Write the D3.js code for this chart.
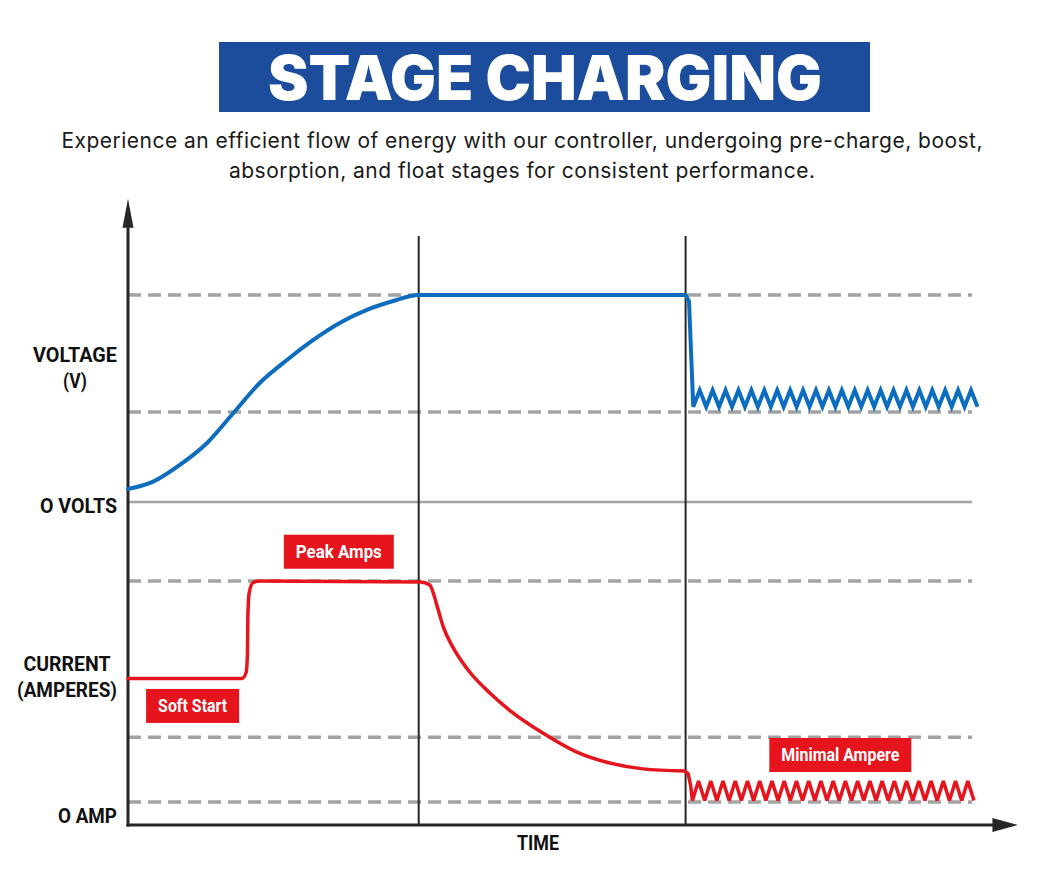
<!DOCTYPE html>
<html>
<head>
  <meta charset="utf-8">
  <title>Stage Charging</title>
  <script src="https://d3js.org/d3.v7.min.js"></script>
  <style>
    body { margin: 0; background: #fff; }
    .lbl { font-family: "Liberation Sans Narrow", "Roboto", sans-serif; font-weight: bold; }
  </style>
</head>
<body>
  <div id="chart"></div>

  <script>
    // time runs 0..100 across the chart, levels are relative (0..100)
    const stageBoundaries = [34.2, 65.6];
    const voltageGuides = [100, 43.5];
    const currentGuides = [100, 36, 9.4];

    // voltage: pre-charge / boost curve up to absorption level
    const voltageRise = [
      [0, 6.3], [2.9, 9.7], [6.1, 17.9], [9.3, 28.5], [12.4, 43], [15.5, 57.5],
      [18.7, 68.6], [21.8, 78.3], [24.9, 86.5], [28.1, 92.8], [31.2, 97.1],
      [34.2, 100], [65.6, 100]
    ];
    // drop to float and the float ripple
    const voltageFloat = [
      [65.6, 100], [66.0, 97], [66.5, 46],
      [67.26, 54], [68.02, 46], [68.78, 54], [69.54, 46], [70.3, 54], [71.06, 46],
      [71.82, 54], [72.58, 46], [73.34, 54], [74.1, 46], [74.86, 54], [75.62, 46],
      [76.38, 54], [77.14, 46], [77.9, 54], [78.66, 46], [79.42, 54], [80.18, 46],
      [80.94, 54], [81.7, 46], [82.46, 54], [83.22, 46], [83.98, 54], [84.74, 46],
      [85.5, 54], [86.26, 46], [87.02, 54], [87.78, 46], [88.54, 54], [89.3, 46],
      [90.06, 54], [90.82, 46], [91.58, 54], [92.34, 46], [93.1, 54], [93.86, 46],
      [94.62, 54], [95.38, 46], [96.14, 54], [96.9, 46], [97.66, 54], [98.42, 46],
      [99.18, 54], [99.94, 46]
    ];

    // current: soft start, peak amps, taper
    const currentMain = [
      [0, 60], [13.4, 60], [13.9, 62.5], [14.05, 70], [14.1, 85], [14.25, 95],
      [14.7, 99.3], [15.5, 100], [34.4, 99.6], [35.5, 98.4], [36.4, 89.3],
      [37.1, 81.1], [38.2, 73], [40.2, 62.7], [42.6, 54], [44.9, 47], [48.8, 37.7],
      [52.8, 29.9], [56.7, 25.4], [60.6, 23], [65.5, 22.1]
    ];
    const currentFloat = [
      [65.5, 22.1], [65.9, 21], [66.2, 16], [66.4, 10],
      [67.12, 18], [67.84, 10], [68.56, 18], [69.28, 10], [70, 18], [70.72, 10],
      [71.44, 18], [72.16, 10], [72.88, 18], [73.6, 10], [74.32, 18], [75.04, 10],
      [75.76, 18], [76.48, 10], [77.2, 18], [77.92, 10], [78.64, 18], [79.36, 10],
      [80.08, 18], [80.8, 10], [81.52, 18], [82.24, 10], [82.96, 18], [83.68, 10],
      [84.4, 18], [85.12, 10], [85.84, 18], [86.56, 10], [87.28, 18], [88, 10],
      [88.72, 18], [89.44, 10], [90.16, 18], [90.88, 10], [91.6, 18], [92.32, 10],
      [93.04, 18], [93.76, 10], [94.48, 18], [95.2, 10], [95.92, 18], [96.64, 10],
      [97.36, 18], [98.08, 10], [98.8, 18], [99.52, 10]
    ];

    // red tags: [text, time, current level at box centre, box width]
    const currentTags = [
      ["Peak Amps", 24.8, 112, 110],
      ["Soft Start", 7.6, 48.8, 93],
      ["Minimal Ampere", 83.8, 28.7, 142]
    ];

    const W = 1060, H = 896;
    const BLUE = "#0c6dbf", RED = "#e5141d", GRID = "#a3a3a3", INK = "#262626";

    const svg = d3.select("#chart").append("svg")
      .attr("width", W).attr("height", H);

    const x = d3.scaleLinear().domain([0, 100]).range([128, 978]);
    const yV = d3.scaleLinear().domain([0, 100]).range([502, 295]);
    const yI = d3.scaleLinear().domain([0, 100]).range([825, 581]);

    // title block
    svg.append("rect").attr("x", 219).attr("y", 42).attr("width", 651).attr("height", 70)
      .attr("fill", "#1c4c9c");
    svg.append("text").attr("x", 545).attr("y", 100).attr("text-anchor", "middle")
      .style("font-family", "Inter, sans-serif").style("font-weight", 900)
      .style("font-size", "62px").attr("fill", "#fff")
      .attr("textLength", 554).attr("lengthAdjust", "spacingAndGlyphs")
      .text("STAGE CHARGING");

    const sub = svg.append("text").attr("text-anchor", "middle")
      .style("font-family", "Inter, sans-serif").style("font-size", "21px").attr("fill", "#1a1a1a");
    sub.append("tspan").attr("x", 522).attr("y", 148)
      .attr("textLength", 921).attr("lengthAdjust", "spacing")
      .text("Experience an efficient flow of energy with our controller, undergoing pre-charge, boost,");
    sub.append("tspan").attr("x", 522).attr("y", 178)
      .attr("textLength", 586).attr("lengthAdjust", "spacing")
      .text("absorption, and float stages for consistent performance.");

    // guides
    const gx0 = x(0), gx1 = x(99.3);
    svg.selectAll(".vguide").data(voltageGuides).join("line")
      .attr("x1", gx0).attr("x2", gx1).attr("y1", d => yV(d)).attr("y2", d => yV(d))
      .attr("stroke", GRID).attr("stroke-width", 3.5).attr("stroke-dasharray", "13,7");
    svg.selectAll(".iguide").data(currentGuides).join("line")
      .attr("x1", gx0).attr("x2", gx1).attr("y1", d => yI(d)).attr("y2", d => yI(d))
      .attr("stroke", GRID).attr("stroke-width", 3.5).attr("stroke-dasharray", "13,7");
    svg.append("line").attr("x1", gx0).attr("x2", gx1).attr("y1", yV(0)).attr("y2", yV(0))
      .attr("stroke", GRID).attr("stroke-width", 2.5);

    // stage separators
    svg.selectAll(".stage").data(stageBoundaries).join("line")
      .attr("x1", d => x(d)).attr("x2", d => x(d))
      .attr("y1", yV(128.5)).attr("y2", yI(0))
      .attr("stroke", INK).attr("stroke-width", 2);

    // axes with arrows
    svg.append("line").attr("x1", x(0)).attr("x2", x(0)).attr("y1", yI(0) + 1.5).attr("y2", yV(141))
      .attr("stroke", INK).attr("stroke-width", 3);
    svg.append("path")
      .attr("d", `M${x(0)},${yV(146.5)} L${x(0) - 5.5},${yV(132.5)} L${x(0) + 5.5},${yV(132.5)} Z`)
      .attr("fill", INK);
    svg.append("line").attr("x1", x(0) - 1.5).attr("x2", x(102)).attr("y1", yI(0)).attr("y2", yI(0))
      .attr("stroke", INK).attr("stroke-width", 3);
    svg.append("path")
      .attr("d", `M${x(104.7)},${yI(0)} L${x(101.7)},${yI(0) - 7} L${x(101.7)},${yI(0) + 7} Z`)
      .attr("fill", INK);

    // curves
    const smooth = d3.line().x(d => x(d[0])).curve(d3.curveMonotoneX);
    const sharp = d3.line().x(d => x(d[0]));

    svg.append("path").datum(voltageRise)
      .attr("d", smooth.y(d => yV(d[1])))
      .attr("fill", "none").attr("stroke", BLUE).attr("stroke-width", 4).attr("stroke-linecap", "round");
    svg.append("path").datum(voltageFloat)
      .attr("d", sharp.y(d => yV(d[1])))
      .attr("fill", "none").attr("stroke", BLUE).attr("stroke-width", 4)
      .attr("stroke-linejoin", "miter").attr("stroke-miterlimit", 3);

    svg.append("path").datum(currentMain)
      .attr("d", smooth.y(d => yI(d[1])))
      .attr("fill", "none").attr("stroke", RED).attr("stroke-width", 3.5).attr("stroke-linecap", "round");
    svg.append("path").datum(currentFloat)
      .attr("d", sharp.y(d => yI(d[1])))
      .attr("fill", "none").attr("stroke", RED).attr("stroke-width", 3.5)
      .attr("stroke-linejoin", "miter").attr("stroke-miterlimit", 3);

    // axis labels (condensed look via textLength)
    const lbl = (t, px, py, anchor, len) => svg.append("text").attr("class", "lbl")
      .attr("x", px).attr("y", py).attr("text-anchor", anchor)
      .style("font-size", "20px").style("fill", "#111")
      .attr("textLength", len).attr("lengthAdjust", "spacingAndGlyphs").text(t);
    lbl("VOLTAGE", 75, 362, "middle", 84);
    lbl("(V)", 75, 388, "middle", 24);
    lbl("O VOLTS", 117, 513, "end", 77);
    lbl("CURRENT", 67, 671, "middle", 87);
    lbl("(AMPERES)", 67, 697, "middle", 100);
    lbl("O AMP", 117, 823, "end", 59);
    lbl("TIME", 538, 850, "middle", 42);

    // red tags
    currentTags.forEach(([t, tx, ty, bw]) => {
      svg.append("rect")
        .attr("x", x(tx) - bw / 2).attr("y", yI(ty) - 17).attr("width", bw).attr("height", 34)
        .attr("fill", RED);
      svg.append("text").attr("class", "lbl")
        .attr("x", x(tx)).attr("y", yI(ty) + 6).attr("text-anchor", "middle")
        .style("font-size", "18px").style("fill", "#fff")
        .attr("textLength", bw - 24).attr("lengthAdjust", "spacingAndGlyphs").text(t);
    });
  </script>
</body>
</html>
